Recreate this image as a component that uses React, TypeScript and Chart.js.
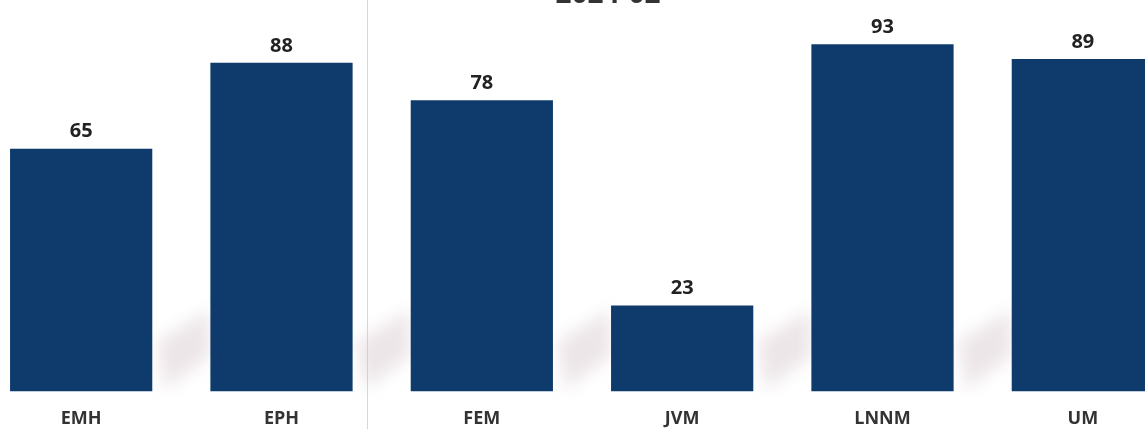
import React, { useEffect, useRef } from "react";
import { Chart, registerables } from "chart.js";

Chart.register(...registerables);

const titleText = "2024-02";
const categories = ["EMH", "EPH", "FEM", "JVM", "LNNM", "UM"];
const scores = [65, 88, 78, 23, 93, 89];
const yMin = 0;
const yMax = 100;
const separatorAfterIndex = 1;

const FONT = "'Open Sans', Lato, 'DejaVu Sans', sans-serif";
const BAR_COLOR = "#0e3b6b";

const decorPlugin = {
  id: "decor",
  beforeDatasetsDraw(chart: any) {
    const { ctx } = chart;
    const meta = chart.getDatasetMeta(0);
    const sb = meta.data[separatorAfterIndex] as any;
    const sx = Math.round(sb.x + sb.width / 2 + 14.5) + 0.5;
    ctx.save();
    ctx.strokeStyle = "rgba(205,205,205,0.8)";
    ctx.lineWidth = 1;
    ctx.beginPath();
    ctx.moveTo(sx, 0);
    ctx.lineTo(sx, chart.height);
    ctx.stroke();
    ctx.restore();

    ctx.save();
    ctx.filter = "blur(8px)";
    ctx.fillStyle = "rgba(208,190,194,0.38)";
    for (let i = 1; i < meta.data.length; i++) {
      const prev = meta.data[i - 1] as any;
      const cur = meta.data[i] as any;
      const pr = prev.x + prev.width / 2;
      const l = cur.x - cur.width / 2;
      const b = cur.base;
      ctx.beginPath();
      ctx.moveTo(pr + 4, b - 50);
      ctx.lineTo(l, b - 82);
      ctx.lineTo(l, b - 35);
      ctx.lineTo(pr + 12, b - 2);
      ctx.closePath();
      ctx.fill();
    }
    ctx.restore();
  },
  afterDatasetsDraw(chart: any) {
    const { ctx } = chart;
    const meta = chart.getDatasetMeta(0);
    ctx.save();
    ctx.fillStyle = "#222";
    ctx.font = `bold 20px ${FONT}`;
    ctx.textAlign = "center";
    ctx.textBaseline = "middle";
    meta.data.forEach((bar: any, i: number) => {
      ctx.fillText(String(scores[i]), bar.x, bar.y - 17);
    });
    ctx.fillStyle = "#333";
    ctx.font = `bold 28px ${FONT}`;
    ctx.textBaseline = "alphabetic";
    ctx.fillText(titleText, chart.width / 2 + 26, 33);
    ctx.restore();
  },
};

export default function App() {
  const ref = useRef<HTMLCanvasElement | null>(null);
  useEffect(() => {
    if (!ref.current) return;
    const chart = new Chart(ref.current, {
      type: "bar",
      data: {
        labels: categories,
        datasets: [
          {
            data: scores,
            backgroundColor: BAR_COLOR,
            borderWidth: 0,
            categoryPercentage: 1,
            barPercentage: 0.71,
          },
        ],
      },
      options: {
        animation: false,
        responsive: false,
        devicePixelRatio: 1,
        layout: { padding: { top: 48, bottom: 3, left: 0, right: 0 } },
        plugins: {
          legend: { display: false },
          tooltip: { enabled: false },
          title: { display: false },
        },
        scales: {
          x: {
            grid: { display: false, drawTicks: false },
            border: { display: false },
            ticks: {
              color: "#333",
              font: { family: FONT, size: 18, weight: "bold" },
              padding: 17,
            },
          },
          y: {
            display: false,
            min: yMin,
            max: yMax,
          },
        },
      },
      plugins: [decorPlugin],
    });
    return () => chart.destroy();
  }, []);
  return (
    <div style={{ position: "fixed", left: -19, top: -30, width: 1202, height: 480, background: "#fff" }}>
      <canvas ref={ref} width={1202} height={480} style={{ display: "block" }} />
    </div>
  );
}
